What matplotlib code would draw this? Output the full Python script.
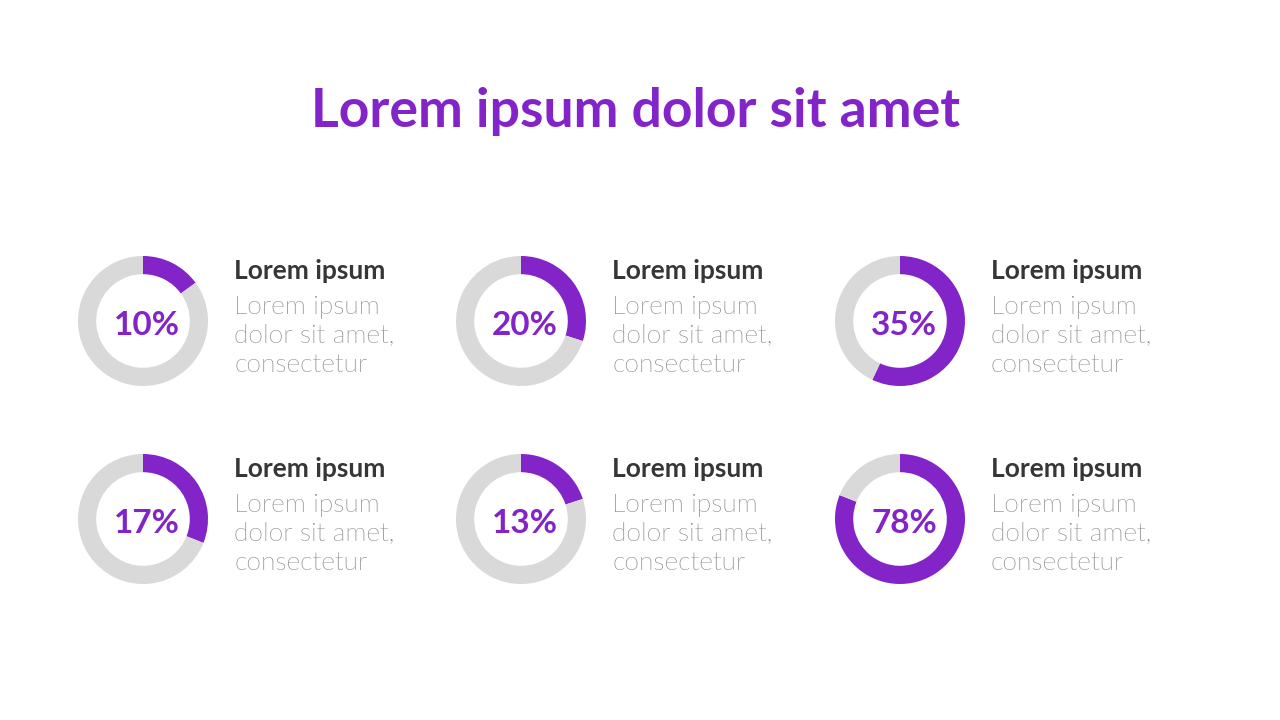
import matplotlib
matplotlib.use('Agg')
import matplotlib.pyplot as plt
from matplotlib import font_manager

# data
title = "Lorem ipsum dolor sit amet"
labels = ["10%", "20%", "35%", "17%", "13%", "78%"]
# filled share of each ring as drawn in the picture (not the same as the labels)
arc_values = [15, 30, 57, 31, 20, 81]
headings = ["Lorem ipsum"] * 6
body_lines = ["Lorem ipsum", "dolor sit amet,", "consectetur"]

purple = '#8224c8'
ring_gray = '#d9d9d9'
head_col = '#363636'
body_col = '#868686'

plt.rcParams['font.family'] = ['Lato', 'DejaVu Sans']

# pick Lato Light by file if it is there
light_prop = None
for f in font_manager.fontManager.ttflist:
	if f.name == 'Lato' and 'light' in f.fname.lower() and 'italic' not in f.fname.lower():
		light_prop = font_manager.FontProperties(fname=f.fname, size=19)
		break
if light_prop is None:
	light_prop = font_manager.FontProperties(family='Lato', weight='normal', size=19)

W, H = 1280, 720
fig = plt.figure(figsize=(12.8, 7.2), dpi=100)
fig.patch.set_facecolor('white')

def fx(x):
	return x / W

def fy(y):
	return 1 - y / H

fig.text(fx(636), fy(127), title, ha='center', va='baseline',
		 fontsize=38.5, fontweight='bold', color=purple)

cols = [143, 521, 900]
rows = [321, 519]
R = 65

for i, val in enumerate(arc_values):
	cx = cols[i % 3]
	cy = rows[i // 3]
	half = R * 1.05
	ax = fig.add_axes([fx(cx - half), fy(cy + half), 2 * half / W, 2 * half / H])
	ax.pie([val, 100 - val], colors=[purple, ring_gray], startangle=90,
		   counterclock=False, radius=1,
		   wedgeprops=dict(width=0.28, linewidth=0))
	ax.set_xlim(-1.05, 1.05)
	ax.set_ylim(-1.05, 1.05)
	ax.set_aspect('equal')
	ax.axis('off')

	fig.text(fx(cx + 4), fy(cy + 14), labels[i], ha='center', va='baseline',
			 fontsize=24, fontweight='bold', color=purple)

	tx = cx + 91
	fig.text(fx(tx), fy(cy - 42), headings[i], ha='left', va='baseline',
			 fontsize=19, fontweight='bold', color=head_col)
	for k, line in enumerate(body_lines):
		fig.text(fx(tx), fy(cy - 7 + 29 * k), line, ha='left', va='baseline',
				 fontproperties=light_prop, color=body_col)

fig.savefig('out.png', dpi=100, facecolor='white')
